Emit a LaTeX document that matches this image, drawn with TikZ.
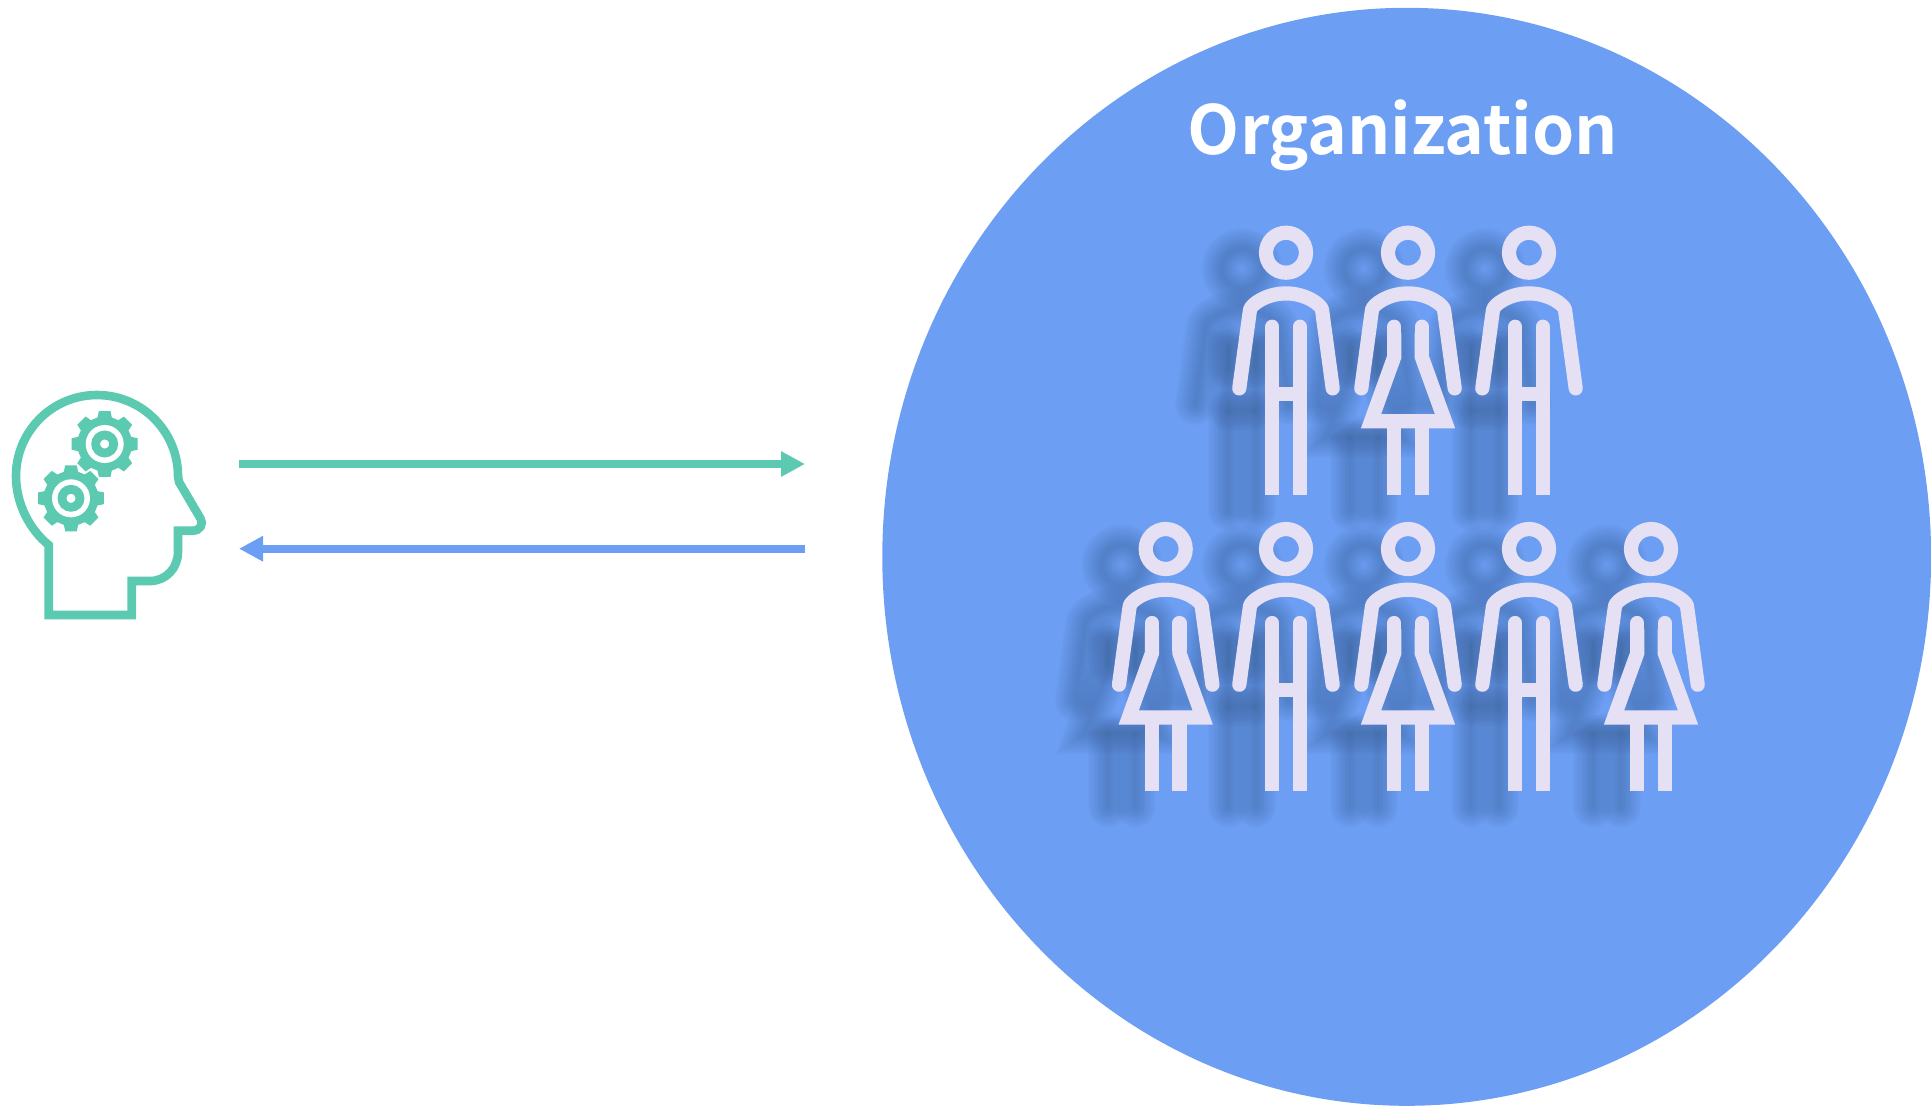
\documentclass[tikz,border=0pt]{standalone}
\usepackage{fontspec}
\newfontfamily\orgfont{Noto Sans CJK SC Bold}
\usetikzlibrary{arrows.meta}
\definecolor{iconGreen}{HTML}{5CCAB0}
\definecolor{orgBlue}{HTML}{6C9EF3}
\definecolor{figColor}{HTML}{E6E0F5}
\definecolor{shadeColor}{HTML}{3A6097}
\tikzset{
  figline/.style={draw=figColor, line width=14.2pt},
  headline/.style={draw=iconGreen, line width=8.6pt},
  linkgreen/.style={draw=iconGreen, line width=8pt, -{Triangle[length=24pt,width=24pt]}},
  linkblue/.style={draw=orgBlue, line width=8pt, -{Triangle[length=24pt,width=24pt]}}
}
% one person, drawn from the middle of the head
\newcommand{\armsfig}{%
\draw[figline, line cap=round, line join=round] (-46.7,135.7) -- (-36,57) .. controls (-35,52) and (-20,40.7) .. (0,40.7) .. controls (20,40.7) and (35,52) .. (36,57) -- (46.7,135.7);
\draw[figline] (0,0) circle [radius=20pt];
}
\newcommand{\manfig}{%
\armsfig
\draw[figline, line cap=round] (-13.7,74) -- (-13.7,100);
\draw[figline, line cap=round] (13.7,74) -- (13.7,100);
\draw[figline] (-13.7,80) -- (-13.7,242);
\draw[figline] (13.7,80) -- (13.7,242);
\draw[figline] (-13.7,141.3) -- (13.7,141.3);
}
\newcommand{\womanfig}{%
\armsfig
\draw[figline, line cap=round] (-13.7,74) -- (-13.7,100);
\draw[figline, line cap=round] (13.7,74) -- (13.7,100);
\draw[figline, line join=miter] (-13.7,80) -- (-13.7,104) -- (-37,168.5) -- (37,168.5) -- (13.7,104) -- (13.7,80);
\draw[figline] (-13.7,170) -- (-13.7,242);
\draw[figline] (13.7,170) -- (13.7,242);
}
\newcommand{\gearfig}{%
\fill[iconGreen, preaction={draw=white, line width=1.5pt}] (-10:33.5)
  \foreach \a in {0,45,...,315} {-- (\a-10:33.5) -- (\a+10:33.5) -- (\a+15:27.5) -- (\a+30:27.5)} -- cycle;
\fill[white] (0,0) circle [radius=19pt];
\draw[iconGreen, line width=8.8pt] (0,0) circle [radius=9pt];
}
\begin{document}
\begin{tikzpicture}[x=1pt, y=-1pt]
\useasboundingbox (0,0) rectangle (1931,1106);
% big circle
\fill[orgBlue] (1406.7,556.8) ellipse [x radius=524.4pt, y radius=549pt];
\node[text=white, font=\orgfont\fontsize{67.6}{70}\selectfont, anchor=base] (title) at (1403,154) {Organization};
% shadows first, then the people
\foreach \w in {2,5,...,41} {
  \tikzset{figline/.style={draw=shadeColor, draw opacity=0.035, line width=\w pt, line cap=round}}
  \foreach \px/\py/\kind in {1286/252.7/man,1408/252.7/woman,1529/252.7/man,1165.7/549/woman,1286/549/man,1408/549/woman,1529/549/man,1651/549/woman} {
    \begin{scope}[shift={(\px-44,\py+16)}]
    \csname\kind fig\endcsname
    \end{scope}
  }
}
\foreach \px/\py/\kind in {1286/252.7/man,1408/252.7/woman,1529/252.7/man,1165.7/549/woman,1286/549/man,1408/549/woman,1529/549/man,1651/549/woman} {
  \begin{scope}[shift={(\px,\py)}]
  \csname\kind fig\endcsname
  \end{scope}
}
% head with gears
\draw[headline, miter limit=10] (48.7,545) -- (48.7,615) -- (131.7,615) -- (131.7,581) -- (150,581) .. controls (166,581) and (178,568) .. (178,552) -- (178,530.7) -- (192.7,530.7) .. controls (200,530.7) and (204,524) .. (200.5,518.5) -- (179,482) -- (178,476) .. controls (178,431.3) and (141.7,395) .. (97,395) .. controls (52.3,395) and (16,431.3) .. (16,476) .. controls (16,504) and (30,530) .. cycle;
\begin{scope}[shift={(104.7,444)}]
\gearfig
\end{scope}
\begin{scope}[shift={(71,498.3)}]
\gearfig
\end{scope}
% arrows
\coordinate (greenstart) at (239,464);
\coordinate (greenend) at (805,464);
\coordinate (bluestart) at (805,548.7);
\coordinate (blueend) at (239,548.7);
\draw[linkgreen] (greenstart) -- (greenend);
\draw[linkblue] (bluestart) -- (blueend);
\end{tikzpicture}
\end{document}
